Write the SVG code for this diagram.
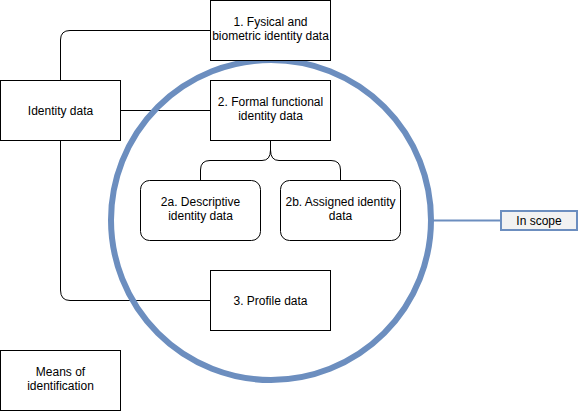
<svg xmlns="http://www.w3.org/2000/svg" width="582" height="411" viewBox="0 0 582 411">
<style>
.box{fill:#fff;stroke:#000;stroke-width:1}
.conn{fill:none;stroke:#000;stroke-width:1}
.t{font-family:"Liberation Sans",Arial,sans-serif;font-size:12px;fill:#000;text-anchor:middle}
</style>
<rect width="582" height="411" fill="#fff"/>
<g id="connectors">
<path class="conn" d="M60.5,80 V40 Q60.5,30.5 70,30.5 H210"/>
<path class="conn" d="M120,110.5 H210"/>
<path class="conn" d="M60.5,140 V290 Q60.5,300.5 70,300.5 H210"/>
<path class="conn" d="M270.5,140 V150 Q270.5,160.5 262,160.5 H210 Q200.5,160.5 200.5,170 V180 M270.5,150 Q270.5,160.5 279,160.5 H331 Q340.5,160.5 340.5,170 V180"/>
<path fill="none" stroke="#6c8ebf" stroke-width="2" d="M433,220.5 H500"/>
</g>
<g id="scope-circle">
<circle cx="271" cy="220" r="160" fill="none" stroke="#6c8ebf" stroke-width="6"/>
</g>
<g id="n1"><rect class="box" x="210.5" y="0.5" width="120" height="60"/>
<text class="t" x="270.5" y="26">1. Fysical and</text><text class="t" x="270.5" y="40">biometric identity data</text></g>
<g id="n-identity"><rect class="box" x="0.5" y="80.5" width="120" height="60"/>
<text class="t" x="60.5" y="115">Identity data</text></g>
<g id="n2"><rect class="box" x="210.5" y="80.5" width="120" height="60"/>
<text class="t" x="270.5" y="106">2. Formal functional</text><text class="t" x="270.5" y="120">identity data</text></g>
<g id="n2a"><rect class="box" x="140.5" y="180.5" width="120" height="60" rx="9"/>
<text class="t" x="200.5" y="206">2a. Descriptive</text><text class="t" x="200.5" y="220">identity data</text></g>
<g id="n2b"><rect class="box" x="280.5" y="180.5" width="120" height="60" rx="9"/>
<text class="t" x="340.5" y="206">2b. Assigned identity</text><text class="t" x="340.5" y="220">data</text></g>
<g id="n3"><rect class="box" x="210.5" y="270.5" width="120" height="60"/>
<text class="t" x="270.5" y="305">3. Profile data</text></g>
<g id="n-means"><rect class="box" x="0.5" y="350.5" width="120" height="60"/>
<text class="t" x="60.5" y="376">Means of</text><text class="t" x="60.5" y="390">identification</text></g>
<g id="n-scope"><rect x="501" y="211" width="76" height="19" fill="#f2f2f2" stroke="#6c8ebf" stroke-width="2"/>
<text class="t" x="539" y="225">In scope</text></g>
</svg>
